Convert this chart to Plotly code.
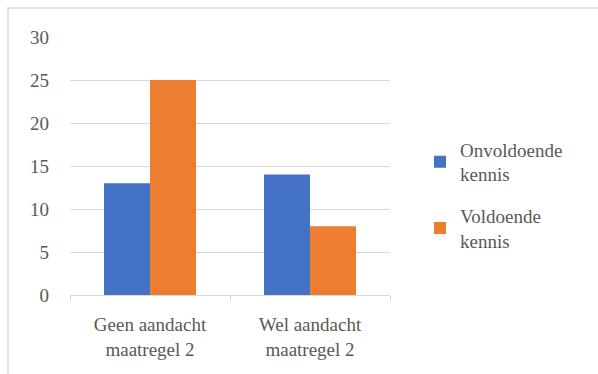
import plotly.graph_objects as go

categories = ["Geen aandacht<br>maatregel 2", "Wel aandacht<br>maatregel 2"]
onvoldoende = [13, 14]
voldoende = [25, 8]
series_names = ["Onvoldoende<br>kennis", "Voldoende<br>kennis"]
yticks = [0, 5, 10, 15, 20, 25, 30]

FONT = "Liberation Serif"
TXT = "#595959"

fig = go.Figure()
fig.add_trace(go.Bar(x=categories, y=onvoldoende, name=series_names[0],
                     marker=dict(color="#4472C4", line=dict(width=0)), legendgroup="a"))
fig.add_trace(go.Bar(x=categories, y=voldoende, name=series_names[1],
                     marker=dict(color="#ED7D31", line=dict(width=0)), legendgroup="b"))

L, R, T, B = 70, 208, 37, 79
W, H = 598, 374
pw, ph = W - L - R, H - T - B

fig.update_layout(
    width=W, height=H,
    margin=dict(l=L, r=R, t=T, b=B, pad=0, autoexpand=False),
    paper_bgcolor="white", plot_bgcolor="white",
    barmode="group", bargap=0.425, bargroupgap=0,
    font=dict(family=FONT, size=19, color=TXT),
    showlegend=True,
    legend=dict(x=(420 - L) / pw, xanchor="left", y=(H - B - 195) / ph, yanchor="middle",
                font=dict(family=FONT, size=19, color=TXT),
                traceorder="grouped", tracegroupgap=14,
                itemwidth=30, bgcolor="rgba(0,0,0,0)"),
    xaxis=dict(showline=True, linecolor="#d9d9d9", linewidth=1,
               ticks="outside", tickson="boundaries", ticklen=5, tickcolor="#d9d9d9",
               ticklabelstandoff=12,
               tickfont=dict(family=FONT, size=19, color=TXT), showgrid=False),
    yaxis=dict(range=[0, 30], tickvals=yticks, showgrid=True, gridcolor="#d9d9d9",
               gridwidth=1, zeroline=False, showline=False, ticks="",
               ticklabelstandoff=20,
               tickfont=dict(family=FONT, size=19, color=TXT)),
    shapes=[dict(type="rect", xref="paper", yref="paper",
                 x0=(8 - L) / pw, x1=(W + 10 - L) / pw,
                 y0=-(H + 10 - (H - B)) / ph, y1=((H - B) - 8) / ph,
                 line=dict(color="#d9d9d9", width=1.5), layer="below")],
)

fig.write_html("out.html")
